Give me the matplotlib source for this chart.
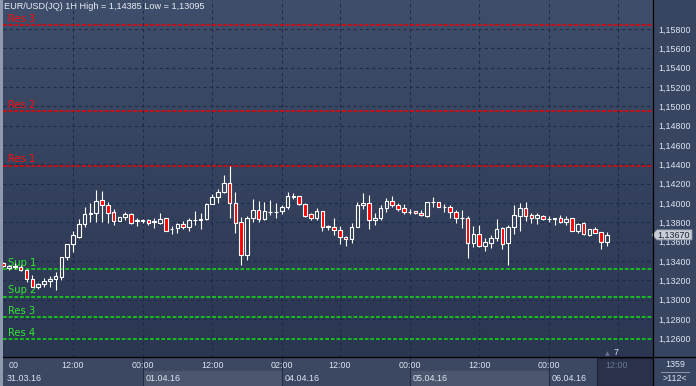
import numpy as np
import matplotlib.pyplot as plt
from matplotlib.colors import LinearSegmentedColormap
from matplotlib.patches import Rectangle, Polygon
from matplotlib.lines import Line2D

# EUR/USD 1H candles
opens = [1.13374, 1.13323, 1.13333, 1.13333, 1.13305, 1.13209, 1.13133, 1.13157, 1.13191, 1.13209,
         1.13236, 1.13436, 1.13571, 1.13651, 1.13782, 1.13885, 1.13892, 1.14030, 1.13978, 1.13906,
         1.13816, 1.13858, 1.13885, 1.13813, 1.13809, 1.13823, 1.13802, 1.13789, 1.13847, 1.13726,
         1.13737, 1.13782, 1.13747, 1.13820, 1.13823, 1.13830, 1.13985, 1.14058, 1.14113, 1.14203,
         1.13996, 1.13802, 1.13464, 1.13847, 1.13923, 1.13830, 1.13902, 1.13906, 1.13920, 1.13954,
         1.14065, 1.14072, 1.13985, 1.13882, 1.13840, 1.13916, 1.13751, 1.13747, 1.13720, 1.13644,
         1.13623, 1.13747, 1.13978, 1.13996, 1.13820, 1.13847, 1.13944, 1.14016, 1.13975, 1.13944,
         1.13906, 1.13913, 1.13892, 1.13868, 1.14010, 1.14013, 1.13958, 1.13961, 1.13902, 1.13844,
         1.13847, 1.13581, 1.13675, 1.13557, 1.13588, 1.13640, 1.13737, 1.13581, 1.13747, 1.13868,
         1.13944, 1.13875, 1.13847, 1.13868, 1.13830, 1.13837, 1.13840, 1.13806, 1.13840, 1.13713,
         1.13795, 1.13668, 1.13726, 1.13695, 1.13599]
highs = [1.13388, 1.13357, 1.13374, 1.13357, 1.13316, 1.13254, 1.13174, 1.13226, 1.13243, 1.13288,
         1.13443, 1.13571, 1.13709, 1.13833, 1.13961, 1.13996, 1.14134, 1.14123, 1.14013, 1.13940,
         1.13858, 1.13906, 1.13899, 1.13847, 1.13830, 1.13830, 1.13847, 1.13899, 1.13847, 1.13761,
         1.13795, 1.13816, 1.13840, 1.13916, 1.13899, 1.13996, 1.14092, 1.14141, 1.14289, 1.14385,
         1.14117, 1.13858, 1.13865, 1.14041, 1.14020, 1.14006, 1.14030, 1.13996, 1.13978, 1.14117,
         1.14106, 1.14072, 1.13996, 1.13892, 1.13944, 1.13916, 1.13771, 1.13840, 1.13761, 1.13657,
         1.13789, 1.14006, 1.14099, 1.14082, 1.13892, 1.13978, 1.14048, 1.14072, 1.13996, 1.13985,
         1.13934, 1.13920, 1.13927, 1.14006, 1.14058, 1.14013, 1.13989, 1.13978, 1.13927, 1.13927,
         1.13865, 1.13761, 1.13771, 1.13633, 1.13668, 1.13833, 1.13747, 1.13771, 1.13978, 1.14003,
         1.14006, 1.13892, 1.13899, 1.13875, 1.13865, 1.13840, 1.13875, 1.13865, 1.13840, 1.13789,
         1.13806, 1.13726, 1.13747, 1.13702, 1.13695]
lows = [1.13340, 1.13305, 1.13312, 1.13298, 1.13185, 1.13126, 1.13105, 1.13133, 1.13133, 1.13095,
        1.13202, 1.13409, 1.13495, 1.13633, 1.13754, 1.13806, 1.13806, 1.13806, 1.13795, 1.13771,
        1.13816, 1.13823, 1.13782, 1.13761, 1.13795, 1.13771, 1.13744, 1.13782, 1.13713, 1.13678,
        1.13692, 1.13726, 1.13713, 1.13771, 1.13730, 1.13823, 1.13985, 1.13996, 1.14106, 1.13847,
        1.13692, 1.13357, 1.13409, 1.13806, 1.13806, 1.13823, 1.13875, 1.13840, 1.13885, 1.13937,
        1.14041, 1.13978, 1.13858, 1.13823, 1.13823, 1.13713, 1.13720, 1.13668, 1.13571, 1.13557,
        1.13581, 1.13747, 1.13934, 1.13733, 1.13768, 1.13823, 1.13909, 1.13954, 1.13920, 1.13882,
        1.13885, 1.13885, 1.13865, 1.13858, 1.13961, 1.13954, 1.13909, 1.13840, 1.13795, 1.13744,
        1.13433, 1.13547, 1.13540, 1.13502, 1.13530, 1.13609, 1.13523, 1.13357, 1.13678, 1.13709,
        1.13816, 1.13795, 1.13782, 1.13823, 1.13806, 1.13771, 1.13795, 1.13771, 1.13713, 1.13685,
        1.13664, 1.13657, 1.13685, 1.13523, 1.13554]
closes = [1.13347, 1.13347, 1.13343, 1.13305, 1.13209, 1.13133, 1.13157, 1.13191, 1.13212, 1.13243,
          1.13436, 1.13571, 1.13664, 1.13782, 1.13882, 1.13899, 1.14020, 1.13975, 1.13899, 1.13816,
          1.13851, 1.13882, 1.13795, 1.13820, 1.13823, 1.13789, 1.13809, 1.13833, 1.13713, 1.13733,
          1.13782, 1.13747, 1.13823, 1.13827, 1.13830, 1.13989, 1.14058, 1.14113, 1.14203, 1.13996,
          1.13795, 1.13464, 1.13840, 1.13923, 1.13830, 1.13913, 1.13909, 1.13906, 1.13954, 1.14072,
          1.14068, 1.13985, 1.13868, 1.13840, 1.13916, 1.13754, 1.13758, 1.13720, 1.13644, 1.13623,
          1.13747, 1.13978, 1.13996, 1.13823, 1.13847, 1.13944, 1.14016, 1.13975, 1.13934, 1.13902,
          1.13909, 1.13892, 1.13875, 1.14006, 1.14013, 1.13954, 1.13961, 1.13902, 1.13847, 1.13847,
          1.13581, 1.13675, 1.13557, 1.13599, 1.13633, 1.13726, 1.13571, 1.13747, 1.13875, 1.13944,
          1.13865, 1.13847, 1.13875, 1.13830, 1.13833, 1.13840, 1.13806, 1.13833, 1.13713, 1.13782,
          1.13675, 1.13726, 1.13692, 1.13599, 1.13670]

# support / resistance levels
res_levels = [1.15840, 1.14949, 1.14385]
res_names = ['Res 3', 'Res 2', 'Res 1']
sup_levels = [1.13313, 1.13029, 1.12816, 1.12588]
sup_names = ['Sup 1', 'Sup 2', 'Res 3', 'Res 4']

# time axis (candle index -> label)
time_pos = [12, 24, 36, 48, 58, 70, 82, 94, 106]
time_labels = ['12:00', '00:00', '12:00', '02:00', '12:00', '00:00', '12:00', '00:00', '12:00']
day_pos = [0, 24, 48, 70, 94]
day_labels = ['31.03.16', '01.04.16', '04.04.16', '05.04.16', '06.04.16']
yticks = np.arange(1.126, 1.1581, 0.002)

W, H = 696, 386
fig = plt.figure(figsize=(W / 100, H / 100), dpi=100)
fig.patch.set_facecolor('#8f9aae')
FONT = 'Liberation Sans'
TXT = '#dfe6f3'


def px_axes(x0, y0, x1, y1):
    return fig.add_axes([x0 / W, 1 - y1 / H, (x1 - x0) / W, (y1 - y0) / H])


def fx(x):
    return x / W


def fy(y):
    return 1 - y / H


# panels (added first so the main axes draws above them)
axr = px_axes(653, 0, 696, 386)
axr.set_axis_off()
axr.add_patch(Rectangle((0, 0), 1, 1, transform=axr.transAxes, color='#374560'))

xmin, xmax = -0.05, 111.95
axb = px_axes(3, 357, 653, 386)
axb.set_xlim(xmin, xmax)
axb.set_ylim(0, 29)
axb.set_axis_off()
axb.add_patch(Rectangle((xmin, 0), xmax - xmin, 29, color='#3c4862'))
bounds = day_pos + [102.5]
for k in range(len(day_pos)):
    if k % 2 == 1:
        axb.add_patch(Rectangle((bounds[k], 0), bounds[k + 1] - bounds[k], 15, color='#4c576f'))
for p in day_pos[1:]:
    axb.plot([p, p], [0, 29], color='#222d44', lw=0.8)
for p, lab in zip(time_pos[:-1], time_labels[:-1]):
    axb.text(p, 20.5, lab, ha='center', va='center', color=TXT, fontsize=6.4, family=FONT)
axb.text(0.9, 20.5, '00', ha='left', va='center', color=TXT, fontsize=6.4, family=FONT)
for p, lab in zip(day_pos, day_labels):
    axb.text(p + 0.5, 7.5, lab, ha='left', va='center', color=TXT, fontsize=6.4, family=FONT)

# main chart
ax = px_axes(3, 0, 653, 357)
bg = LinearSegmentedColormap.from_list('bg', ['#3f4e6a', '#2b3651'])
ax.imshow(np.linspace(0, 1, 256).reshape(-1, 1), cmap=bg, extent=[0, 1, 0, 1],
          transform=ax.transAxes, aspect='auto', zorder=0)
ax.set_xlim(xmin, xmax)
ax.set_ylim(1.12405, 1.16102)
for s in ax.spines.values():
    s.set_visible(False)

ax.set_yticks(yticks)
ax.set_yticklabels([f'{v:.5f}'.replace('.', ',') for v in yticks])
ax.yaxis.tick_right()
ax.tick_params(axis='y', length=0, pad=4, labelsize=6.4, labelcolor=TXT)
for t in ax.get_yticklabels():
    t.set_family(FONT)
ax.set_xticks(time_pos)
ax.tick_params(axis='x', length=0, labelbottom=False)
ax.grid(True, color='#1b2b4c', linestyle=(0, (3, 3)), linewidth=0.75, zorder=1)

for lev, name in zip(res_levels, res_names):
    ax.axhline(lev, color='#f00000', linestyle=(0, (2.5, 1.2)), linewidth=1.1, zorder=2)
    ax.annotate(name, xy=(0, lev), xycoords=('axes fraction', 'data'), xytext=(5, 1.5),
                textcoords='offset pixels', va='bottom', ha='left', color='#ff0a0a',
                fontsize=7.2, family='DejaVu Sans', zorder=3)
for lev, name in zip(sup_levels, sup_names):
    ax.axhline(lev, color='#14e014', linestyle=(0, (2.5, 1.2)), linewidth=1.1, zorder=2)
    ax.annotate(name, xy=(0, lev), xycoords=('axes fraction', 'data'), xytext=(5, 1.5),
                textcoords='offset pixels', va='bottom', ha='left', color='#33e633',
                fontsize=7.2, family='DejaVu Sans', zorder=3)

o = np.array(opens)
h = np.array(highs)
l = np.array(lows)
c = np.array(closes)
x = np.arange(len(o))
top = np.maximum(o, c)
bot = np.minimum(o, c)
ax.vlines(x, top, h, color='white', linewidth=0.8, zorder=4)
ax.vlines(x, l, bot, color='white', linewidth=0.8, zorder=4)
up = c >= o
ax.bar(x[up], (top - bot)[up], bottom=bot[up], width=0.62, facecolor='none',
       edgecolor='white', linewidth=0.8, zorder=5)
ax.bar(x[~up], (top - bot)[~up], bottom=bot[~up], width=0.62, facecolor='#ff0000',
       edgecolor='white', linewidth=0.8, zorder=5)

ax.text(0.002, 0.995, 'EUR/USD(JQ) 1H High = 1,14385 Low = 1,13095', transform=ax.transAxes,
        ha='left', va='top', color='#e8ecf4', fontsize=6.6, family=FONT, zorder=6)

# frame lines
fig.add_artist(Line2D([fx(653), fx(653)], [0, 1], color='black', lw=0.9))
fig.add_artist(Line2D([fx(3), 1], [fy(357), fy(357)], color='black', lw=0.9))

# greyed future time box and counter
fig.add_artist(Rectangle((fx(597), fy(386)), fx(653) - fx(597), fy(358) - fy(386),
                         facecolor='#29324a', edgecolor='#1c2336', lw=0.8))
fig.text(fx(617), fy(366), time_labels[-1], ha='center', va='center', color='#6d7891',
         fontsize=6.4, family=FONT)
fig.text(fx(607), fy(353.5), '\u25b2', ha='center', va='center', color='#66728a', fontsize=4.5)
fig.text(fx(615.5), fy(352.5), '7', ha='center', va='center', color=TXT, fontsize=6.4,
         family=FONT)
fig.text(fx(675), fy(364.5), '1359', ha='center', va='center', color=TXT, fontsize=6.4,
         family=FONT)
fig.add_artist(Line2D([fx(661), fx(689)], [fy(372), fy(372)], color='#9aa4b8', lw=0.6))
fig.text(fx(675), fy(378.5), '>112<', ha='center', va='center', color=TXT, fontsize=6.4,
         family=FONT)

# last price marker
yl = ax.transData.transform((0, closes[-1]))[1]
ym = H - yl
fig.add_artist(Polygon([(fx(652), fy(ym)), (fx(657), fy(ym - 5)), (fx(692), fy(ym - 5)),
                        (fx(692), fy(ym + 5)), (fx(657), fy(ym + 5))],
                       closed=True, facecolor='#c8cdd6', edgecolor='#8d97a8', lw=0.6))
fig.text(fx(657.5), fy(ym), f'{closes[-1]:.5f}'.replace('.', ','), ha='left', va='center',
         color='#1b2337', fontsize=6.4, family=FONT)

fig.savefig('out.png', dpi=100, facecolor=fig.get_facecolor())
